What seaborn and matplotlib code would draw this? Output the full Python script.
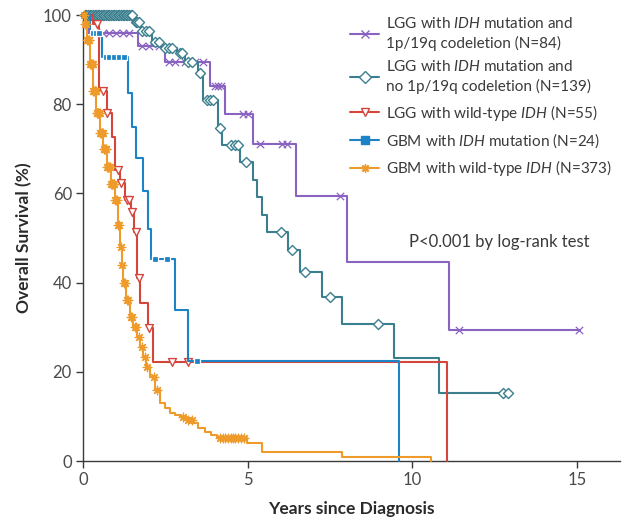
import numpy as np
import matplotlib
matplotlib.use("Agg")
import matplotlib.pyplot as plt
import seaborn as sns
from matplotlib.lines import Line2D

sns.set_style("ticks")
plt.rcParams["font.family"] = ["Lato", "DejaVu Sans"]
plt.rcParams["mathtext.fontset"] = "custom"
plt.rcParams["mathtext.it"] = "Lato:italic"
plt.rcParams["mathtext.rm"] = "Lato"

# ---------------- data ----------------
# LGG with IDH mutation and 1p/19q codeletion
codel_t = [0, 0.15, 1.67, 2.5, 3.85, 4.3, 5.15, 6.48, 8.0, 11.1, 15.1]
codel_s = [100, 96, 93, 89.5, 84, 77.8, 71, 59.4, 44.6, 29.4, 29.4]
codel_cens = [0.4, 0.6, 0.8, 1.0, 1.2, 1.4, 1.8, 2.0, 2.3, 2.6, 2.8, 3.1, 3.4, 3.64,
              4.0, 4.1, 4.2, 4.85, 5.0, 5.36, 6.03, 6.2, 7.8, 11.4, 15.06]

# LGG with IDH mutation and no 1p/19q codeletion
noco_t = [0, 1.55, 1.75, 2.1, 2.4, 2.85, 3.1, 3.48, 3.64, 4.09, 4.21, 4.76, 5.15,
          5.27, 5.42, 5.58, 6.21, 6.58, 7.24, 7.85, 9.45, 10.82, 12.9]
noco_s = [100, 98.5, 96.5, 94, 92.5, 91.5, 89.5, 87, 81, 74.6, 70.9, 67, 63,
          59.2, 55.2, 51.3, 47.3, 42.4, 36.8, 30.7, 23.1, 15.2, 15.2]
noco_cens = [0.05, 0.1, 0.15, 0.2, 0.25, 0.3, 0.35, 0.4, 0.45, 0.5, 0.55, 0.6, 0.65,
             0.7, 0.75, 0.8, 0.85, 0.9, 0.95, 1.0, 1.05, 1.1, 1.15, 1.2, 1.25, 1.3,
             1.35, 1.4, 1.45, 1.5, 1.6, 1.65, 1.7, 1.8, 1.9, 2.0, 2.2, 2.3, 2.5, 2.6,
             2.7, 2.95, 3.0, 3.2, 3.3, 3.55, 3.75, 3.85, 3.95, 4.15, 4.5, 4.6, 4.7,
             4.95, 6.0, 6.35, 6.75, 7.5, 8.95, 12.75, 12.9]

# LGG with wild-type IDH
lggwt_t = [0, 0.3, 0.5, 0.72, 0.88, 0.97, 1.12, 1.27, 1.45, 1.55, 1.65, 1.73, 1.97, 2.12, 11.06]
lggwt_s = [100, 98, 83, 78, 72.6, 65.2, 62.3, 58.5, 55.8, 51.3, 41, 35.4, 29.8, 22.2, 0]
lggwt_cens = [0.42, 0.6, 0.74, 1.05, 1.15, 1.33, 1.4, 1.5, 1.6, 1.7, 2.0, 2.7, 3.2]

# GBM with IDH mutation
gbmm_t = [0, 0.2, 0.58, 1.36, 1.48, 1.6, 1.82, 1.97, 2.06, 2.79, 3.18, 9.58]
gbmm_s = [100, 96, 90.6, 82.5, 75, 68, 60.5, 52, 45.3, 33.9, 22.4, 0]
gbmm_cens = [0.3, 0.4, 0.5, 0.7, 0.8, 0.95, 1.1, 1.25, 2.2, 2.55, 3.45]

# GBM with wild-type IDH
gbmwt_t = [0, 0.05, 0.12, 0.2, 0.3, 0.4, 0.52, 0.62, 0.73, 0.85, 0.97, 1.05, 1.12, 1.17,
           1.21, 1.3, 1.42, 1.53, 1.64, 1.73, 1.82, 1.92, 2.03, 2.18, 2.33, 2.48, 2.64,
           2.8, 2.94, 3.15, 3.33, 3.5, 3.7, 3.9, 4.06, 4.97, 5.42, 7.85, 10.55]
gbmwt_s = [100, 98, 94.4, 89, 83, 78, 73.5, 70, 66, 62, 58.5, 53, 48, 44,
           40, 36, 32.3, 30, 27.8, 25.5, 23.3, 21, 18.8, 16, 13, 11.8, 10.8,
           10.3, 9.9, 9.2, 8.5, 7.5, 6.5, 5.8, 5.2, 4.0, 2.0, 0.9, 0]
gbmwt_cens = [0.03, 0.06, 0.08, 0.1, 0.13, 0.15, 0.17, 0.19, 0.21, 0.23, 0.25, 0.27,
              0.29, 0.31, 0.33, 0.35, 0.37, 0.39, 0.41, 0.43, 0.45, 0.47, 0.49, 0.51,
              0.53, 0.55, 0.57, 0.59, 0.61, 0.63, 0.65, 0.67, 0.69, 0.71, 0.73, 0.75,
              0.77, 0.79, 0.81, 0.83, 0.85, 0.87, 0.89, 0.91, 0.93, 0.95, 0.98, 1.01,
              1.04, 1.07, 1.1, 1.14, 1.19, 1.24, 1.28, 1.33, 1.38, 1.45, 1.5, 1.57,
              1.62, 1.7, 1.78, 1.87, 1.95, 2.15, 2.25, 3.05, 3.2, 3.3, 4.15, 4.25,
              4.32, 4.4, 4.48, 4.55, 4.62, 4.7, 4.8, 4.9]

labels = [
    "LGG with $\\mathit{IDH}$ mutation and\n1p/19q codeletion (N=84)",
    "LGG with $\\mathit{IDH}$ mutation and\nno 1p/19q codeletion (N=139)",
    "LGG with wild-type $\\mathit{IDH}$ (N=55)",
    "GBM with $\\mathit{IDH}$ mutation (N=24)",
    "GBM with wild-type $\\mathit{IDH}$ (N=373)",
]
x_ticks = [0, 5, 10, 15]
y_ticks = [0, 20, 40, 60, 80, 100]

# ---------------- styling ----------------
colors = ["#8a63c2", "#3b7f8f", "#d4463c", "#1c84c6", "#ee9b2c"]
markers = ["x", "D", "v", "s", (8, 2, 0)]
msizes = [28, 26, 32, 22, 38]
filled_white = [False, True, True, False, False]

series = [
    (codel_t, codel_s, codel_cens),
    (noco_t, noco_s, noco_cens),
    (lggwt_t, lggwt_s, lggwt_cens),
    (gbmm_t, gbmm_s, gbmm_cens),
    (gbmwt_t, gbmwt_s, gbmwt_cens),
]

fig = plt.figure(figsize=(6.24, 5.22), dpi=100)
ax = fig.add_axes([83 / 624, 61 / 522, 537 / 624, 446 / 522])

for i, (t, s, cens) in enumerate(series):
    c = colors[i]
    sns.lineplot(x=t, y=s, drawstyle="steps-post", color=c, lw=1.5, ax=ax,
                 sort=False, estimator=None, zorder=2 + i, clip_on=False)
    t_arr = np.asarray(t)
    s_arr = np.asarray(s)
    idx = np.searchsorted(t_arr, np.asarray(cens), side="right") - 1
    cy = s_arr[idx]
    if filled_white[i]:
        sns.scatterplot(x=cens, y=cy, marker=markers[i], s=msizes[i], facecolor="white",
                        edgecolor=c, linewidth=1.0, ax=ax, zorder=3 + i, clip_on=False)
    else:
        sns.scatterplot(x=cens, y=cy, marker=markers[i], s=msizes[i], color=c,
                        linewidth=0.9, ax=ax, zorder=3 + i, clip_on=False)

ax.set_xlim(0, 16.3)
ax.set_ylim(0, 100)
ax.set_xticks(x_ticks)
ax.set_yticks(y_ticks)
sns.despine(ax=ax)
for sp in ["left", "bottom"]:
    ax.spines[sp].set_color("#3a3a3a")
    ax.spines[sp].set_linewidth(1.0)
ax.tick_params(direction="out", length=5, width=1.0, color="#3a3a3a",
               labelsize=12, labelcolor="#4a4a4a", pad=3)

ax.set_xlabel("Years since Diagnosis", fontsize=12.5, fontweight="bold", color="#2a2a2a", labelpad=9)
ax.set_ylabel("Overall Survival (%)", fontsize=12.5, fontweight="bold", color="#2a2a2a", labelpad=8)

ax.text(9.9, 49, "P<0.001 by log-rank test", fontsize=12, color="#3a3a3a", va="center")

handles = []
for i in range(5):
    handles.append(Line2D([0], [0], color=colors[i], lw=1.5, marker=markers[i],
                          markersize=6, markerfacecolor="white" if filled_white[i] else colors[i],
                          markeredgecolor=colors[i]))
leg = ax.legend(handles, labels, loc="upper left", bbox_to_anchor=(350 / 624, 1 - 16 / 522),
                bbox_transform=fig.transFigure, frameon=False, fontsize=11,
                handlelength=1.9, handletextpad=0.45, labelspacing=0.55,
                borderpad=0, borderaxespad=0)
for txt in leg.get_texts():
    txt.set_color("#3a3a3a")
    txt.set_linespacing(1.4)

fig.savefig("out.png", dpi=100)
